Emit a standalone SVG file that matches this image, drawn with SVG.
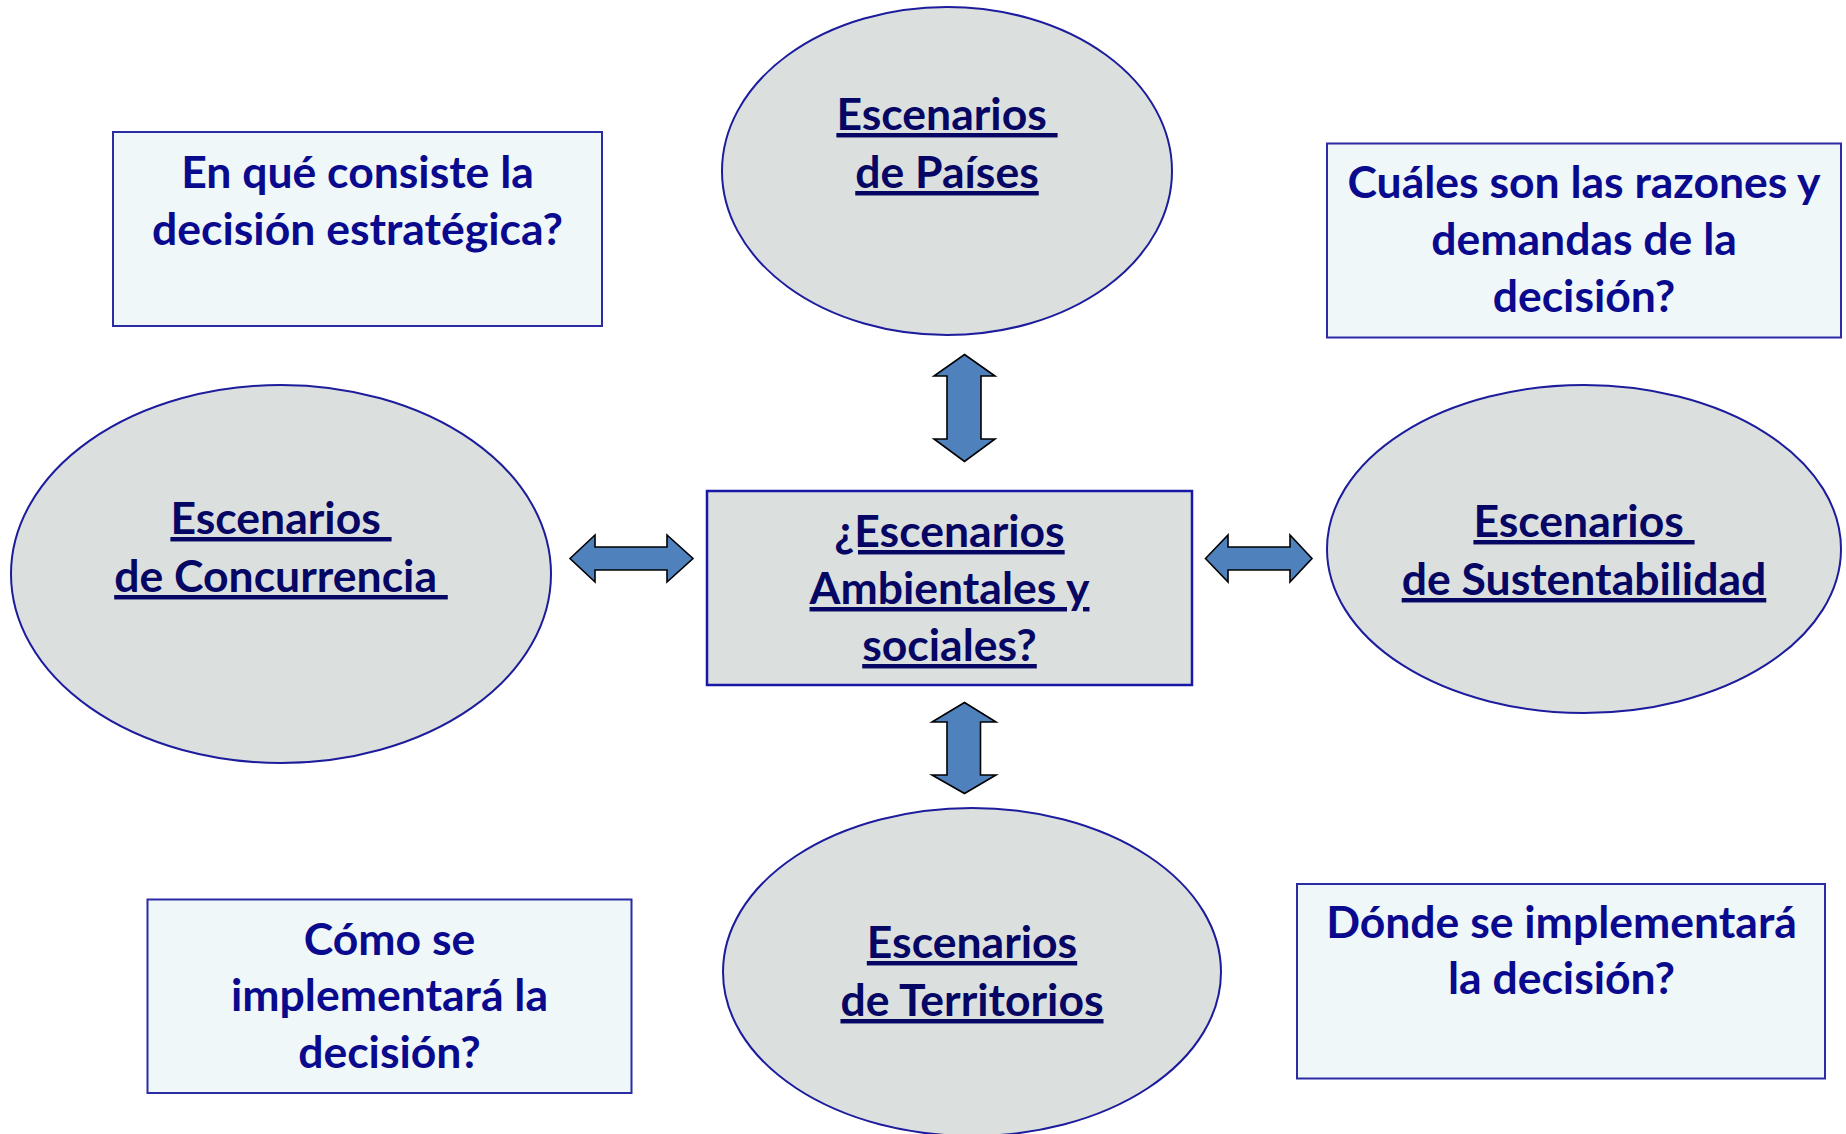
<svg xmlns="http://www.w3.org/2000/svg" width="1846" height="1134" viewBox="0 0 1846 1134">
<style>
.ell{fill:#DBDFDE;stroke:#1C1C9C;stroke-width:2}
.box{fill:#EFF7F9;stroke:#2B2BA6;stroke-width:2}
.cbox{fill:#DBDFDE;stroke:#1818A8;stroke-width:2.5}
.t{font-family:Lato,"Liberation Sans",sans-serif;font-weight:bold;font-size:44.5px;text-anchor:middle;white-space:pre}
.u{fill:#060664;text-decoration:underline;text-decoration-thickness:3.5px;text-underline-offset:6px}
.q{fill:#0A0A8E}
.arr{fill:#4F81BD;stroke:#000;stroke-width:1.6;stroke-linejoin:miter}
</style>
<rect width="1846" height="1134" fill="#FFFFFF"/>
<g id="connectors">
<path class="arr" d="M964.5,354.5 L995,376 L981,376 L981,439 L995,439 L964.5,461.5 L934,439 L947,439 L947,376 L934,376 Z"/>
<path class="arr" d="M964.5,702.5 L996,722 L980.5,722 L980.5,775 L996,775 L964.5,793.5 L932,775 L947,775 L947,722 L932,722 Z"/>
<path class="arr" d="M570,558.5 L595,535 L595,547 L667,547 L667,535 L693,558.5 L667,582 L667,570 L595,570 L595,582 Z"/>
<path class="arr" d="M1205.5,558.5 L1228,535 L1228,547 L1290,547 L1290,535 L1312,558.5 L1290,582 L1290,570 L1228,570 L1228,582 Z"/>
</g>
<g id="paises">
<ellipse class="ell" cx="947" cy="171" rx="225" ry="164"/>
<text class="t u" x="947" y="130" xml:space="preserve">Escenarios </text>
<text class="t u" x="947" y="188">de Países</text>
</g>
<g id="centro">
<rect class="cbox" x="707" y="491" width="485" height="194"/>
<text class="t u" x="949.5" y="547">¿Escenarios</text>
<text class="t u" x="949.5" y="604">Ambientales y</text>
<text class="t u" x="949.5" y="661">sociales?</text>
</g>
<g id="concurrencia">
<ellipse class="ell" cx="281" cy="574" rx="270" ry="189"/>
<text class="t u" x="281" y="534" xml:space="preserve">Escenarios </text>
<text class="t u" x="281" y="592" xml:space="preserve">de Concurrencia </text>
</g>
<g id="sustentabilidad">
<ellipse class="ell" cx="1584" cy="549" rx="257" ry="164"/>
<text class="t u" x="1584" y="537" xml:space="preserve">Escenarios </text>
<text class="t u" x="1584" y="595">de Sustentabilidad</text>
</g>
<g id="territorios">
<ellipse class="ell" cx="972" cy="972" rx="249" ry="164"/>
<text class="t u" x="972" y="958">Escenarios</text>
<text class="t u" x="972" y="1016">de Territorios</text>
</g>
<g id="q-consiste">
<rect class="box" x="113" y="132" width="489" height="194"/>
<text class="t q" x="357.5" y="188">En qué consiste la</text>
<text class="t q" x="357.5" y="245">decisión estratégica?</text>
</g>
<g id="q-razones">
<rect class="box" x="1327" y="143.5" width="514" height="194"/>
<text class="t q" x="1584" y="198">Cuáles son las razones y</text>
<text class="t q" x="1584" y="255">demandas de la</text>
<text class="t q" x="1584" y="312">decisión?</text>
</g>
<g id="q-como">
<rect class="box" x="147.5" y="899.5" width="484" height="193.5"/>
<text class="t q" x="389.5" y="955">Cómo se</text>
<text class="t q" x="389.5" y="1011">implementará la</text>
<text class="t q" x="389.5" y="1068">decisión?</text>
</g>
<g id="q-donde">
<rect class="box" x="1297" y="884" width="528" height="194.5"/>
<text class="t q" x="1561.5" y="938">Dónde se implementará</text>
<text class="t q" x="1561.5" y="994">la decisión?</text>
</g>
</svg>
